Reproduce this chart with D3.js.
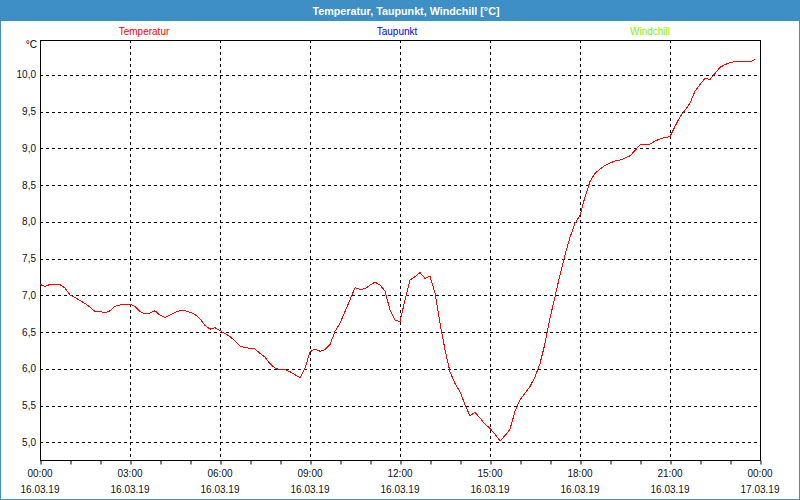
<!DOCTYPE html>
<html><head><meta charset="utf-8">
<script src="https://cdn.jsdelivr.net/npm/d3@7"></script>
<style>
html,body{margin:0;padding:0;background:#fff;}
svg{display:block;}
text{font-family:"Liberation Sans",Arial,sans-serif;}
</style></head><body>
<svg id="c" width="800" height="500"></svg>
<script>
const title = "Temperatur, Taupunkt, Windchill [°C]";
const seriesNames = ["Temperatur", "Taupunkt", "Windchill"];
const seriesColors = ["#ff0000", "#0000ff", "#80f000"];
const yTicks = [5.0, 5.5, 6.0, 6.5, 7.0, 7.5, 8.0, 8.5, 9.0, 9.5, 10.0];
const xTickLabels = [["00:00","16.03.19"],["03:00","16.03.19"],["06:00","16.03.19"],["09:00","16.03.19"],["12:00","16.03.19"],["15:00","16.03.19"],["18:00","16.03.19"],["21:00","16.03.19"],["00:00","17.03.19"]];
const times = ["00:00","00:10","00:20","00:30","00:40","00:50","01:00","01:10","01:20","01:30","01:40","01:50",
"02:00","02:10","02:20","02:30","02:40","02:50","03:00","03:10","03:20","03:30","03:40","03:50",
"04:00","04:10","04:20","04:30","04:40","04:50","05:00","05:10","05:20","05:30","05:40","05:50",
"06:00","06:10","06:20","06:30","06:40","06:50","07:00","07:10","07:20","07:30","07:40","07:50",
"08:00","08:10","08:20","08:30","08:40","08:50","09:00","09:10","09:20","09:30","09:40","09:50",
"10:00","10:10","10:20","10:30","10:40","10:50","11:00","11:10","11:20","11:30","11:40","11:50",
"12:00","12:10","12:20","12:30","12:40","12:50","13:00","13:10","13:20","13:30","13:40","13:50",
"14:00","14:10","14:20","14:30","14:40","14:50","15:00","15:10","15:20","15:30","15:40","15:50",
"16:00","16:10","16:20","16:30","16:40","16:50","17:00","17:10","17:20","17:30","17:40","17:50",
"18:00","18:10","18:20","18:30","18:40","18:50","19:00","19:10","19:20","19:30","19:40","19:50",
"20:00","20:10","20:20","20:30","20:40","20:50","21:00","21:10","21:20","21:30","21:40","21:50",
"22:00","22:10","22:20","22:30","22:40","22:50","23:00","23:10","23:20","23:30","23:40","23:50"];
const temperatur = [7.15,7.12,7.15,7.15,7.145,7.10,7.005,6.97,6.93,6.89,6.84,6.78,
6.78,6.76,6.79,6.85,6.87,6.88,6.88,6.85,6.78,6.75,6.76,6.79,
6.73,6.70,6.73,6.77,6.79,6.79,6.77,6.74,6.68,6.59,6.54,6.56,
6.52,6.48,6.44,6.38,6.31,6.29,6.28,6.27,6.21,6.16,6.07,6.01,
5.985,5.99,5.96,5.92,5.88,6.01,6.23,6.27,6.24,6.26,6.33,6.51,
6.62,6.78,6.94,7.105,7.08,7.09,7.14,7.18,7.14,7.06,6.80,6.665,
6.64,6.94,7.21,7.255,7.31,7.23,7.26,7.03,6.62,6.26,5.96,5.80,
5.69,5.51,5.36,5.41,5.33,5.245,5.19,5.11,5.02,5.09,5.18,5.42,
5.58,5.67,5.76,5.89,6.07,6.345,6.69,6.98,7.28,7.55,7.79,7.98,
8.09,8.34,8.55,8.66,8.72,8.77,8.80,8.83,8.84,8.87,8.90,8.97,
9.05,9.055,9.06,9.10,9.13,9.15,9.16,9.30,9.43,9.52,9.615,9.78,
9.87,9.955,9.94,10.02,10.105,10.14,10.17,10.18,10.19,10.19,10.18,10.21];

const svg = d3.select("#c");
const W = 800, H = 500;
const L = 40, R = 760, T = 40, B = 460;
const toH = s => { const p = s.split(":"); return +p[0] + (+p[1]) / 60; };

// frame & title bar
svg.append("rect").attr("x",0.5).attr("y",0.5).attr("width",W-1).attr("height",H-1)
  .attr("fill","#fff").attr("stroke","#3d8fc6").attr("stroke-width",1);
svg.append("rect").attr("x",0).attr("y",0).attr("width",W).attr("height",21).attr("fill","#3d8fc6");
svg.append("text").attr("x",406).attr("y",14.5).attr("text-anchor","middle")
  .attr("fill","#fff").attr("font-weight","bold").attr("font-size",11.5)
  .attr("textLength",187).attr("lengthAdjust","spacingAndGlyphs").text(title);

const x = d3.scaleLinear().domain([0,24]).range([L,R]);
const y = d3.scaleLinear().domain([4.759,10.476]).range([B,T]);

// legend
const legX = [144, 397, 650];
seriesNames.forEach((n,i)=>{
  svg.append("text").attr("x",legX[i]).attr("y",34.5).attr("text-anchor","middle")
    .attr("font-size",10).attr("fill",seriesColors[i]).text(n);
});

// grid
const g = svg.append("g");
g.selectAll("line.h").data(yTicks).enter().append("line")
  .attr("x1",L).attr("x2",R).attr("y1",d=>Math.round(y(d))+0.5).attr("y2",d=>Math.round(y(d))+0.5)
  .attr("stroke","#000").attr("stroke-dasharray","3,3");
g.selectAll("line.v").data(d3.range(3,24,3)).enter().append("line")
  .attr("y1",T).attr("y2",B).attr("x1",d=>Math.round(x(d))+0.5).attr("x2",d=>Math.round(x(d))+0.5)
  .attr("stroke","#000").attr("stroke-dasharray","3,3");

// y labels
svg.selectAll("text.yl").data(yTicks).enter().append("text")
  .attr("x",36).attr("y",d=>y(d)+3.5).attr("text-anchor","end").attr("font-size",10).attr("fill","#111")
  .text(d=>d3.format(".1f")(d).replace(".",","));
svg.append("text").attr("x",37).attr("y",48).attr("text-anchor","end").attr("font-size",10).text("°C");

// x axis ticks
const xAxis = d3.axisBottom(x).tickValues(d3.range(0,25,1)).tickSize(4).tickFormat("");
const ax = svg.append("g").attr("transform",`translate(0.5,${B}.5)`).call(xAxis);
ax.select(".domain").remove();
ax.selectAll("line").attr("stroke","#000");
xTickLabels.forEach((lab,i)=>{
  svg.append("text").attr("x",x(i*3)).attr("y",476.5).attr("text-anchor","middle").attr("font-size",10).attr("fill","#111").text(lab[0]);
  svg.append("text").attr("x",x(i*3)).attr("y",492.5).attr("text-anchor","middle").attr("font-size",10).attr("fill","#111").text(lab[1]);
});

// plot border
svg.append("rect").attr("x",L+0.5).attr("y",T+0.5).attr("width",R-L).attr("height",B-T)
  .attr("fill","none").attr("stroke","#000").attr("stroke-width",1);

// line
const line = d3.line().x((d,i)=>x(toH(times[i]))).y(d=>y(d));
svg.append("path").datum(temperatur).attr("d",line).attr("fill","none")
  .attr("stroke",seriesColors[0]).attr("stroke-width",1).attr("shape-rendering","crispEdges");
</script>
</body></html>
